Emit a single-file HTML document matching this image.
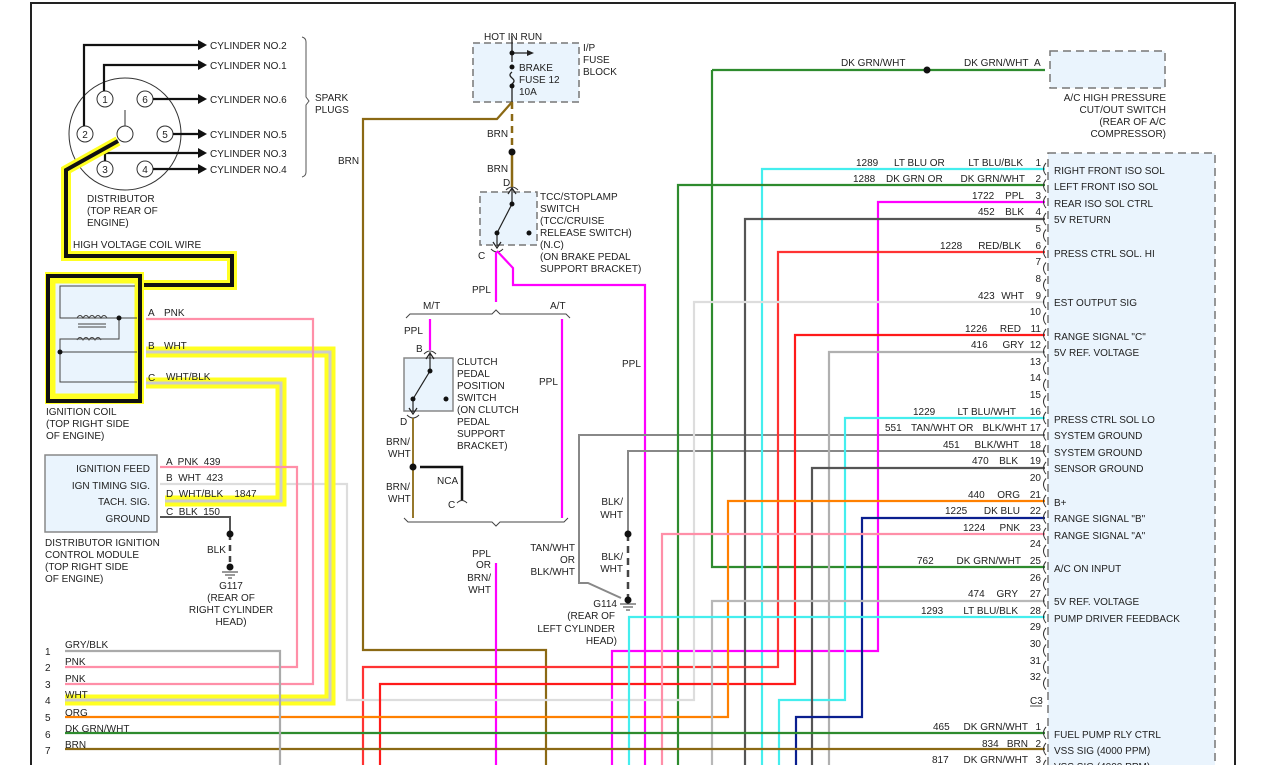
<!DOCTYPE html>
<html><head><meta charset="utf-8"><style>
html,body{margin:0;padding:0;background:#fff}
svg{display:block}
text{font-family:"Liberation Sans",sans-serif;font-size:10px;fill:#222;white-space:pre}
.w{fill:none;stroke-width:2.2}
</style></head><body>
<svg width="1281" height="765" viewBox="0 0 1281 765" xmlns="http://www.w3.org/2000/svg">
<rect x="31" y="3" width="1204" height="770" fill="none" stroke="#222" stroke-width="2"/>

<rect x="1048" y="153" width="167" height="620" fill="#eaf4fd" stroke="#777" stroke-width="1.5" stroke-dasharray="8,5"/>
<rect x="1050" y="51" width="115" height="37" fill="#eaf4fd" stroke="#777" stroke-width="1.5" stroke-dasharray="8,5"/>
<text x="1166" y="101" text-anchor="end">A/C HIGH PRESSURE</text>
<text x="1166" y="113" text-anchor="end">CUT/OUT SWITCH</text>
<text x="1166" y="125" text-anchor="end">(REAR OF A/C</text>
<text x="1166" y="137" text-anchor="end">COMPRESSOR)</text>

<rect x="473" y="43" width="106" height="59" fill="#eaf4fd" stroke="#777" stroke-width="1.5" stroke-dasharray="7,4"/>
<text x="484" y="40">HOT IN RUN</text>
<text x="583" y="51">I/P</text><text x="583" y="63">FUSE</text><text x="583" y="75">BLOCK</text>
<text x="519" y="71">BRAKE</text><text x="519" y="83">FUSE 12</text><text x="519" y="95">10A</text>
<path d="M512 36V62 M512 72 q-4 3 0 6 q4 3 0 6 M512 84V102 M512 53H528" stroke="#222" fill="none" stroke-width="1.3"/>
<path d="M527 50L534 53L527 56Z" fill="#222"/>
<circle cx="512" cy="53" r="2.5" fill="#111"/><circle cx="512" cy="67" r="2.5" fill="#111"/><circle cx="512" cy="86" r="2.5" fill="#111"/>

<rect x="480" y="192" width="57" height="53" fill="#eaf4fd" stroke="#777" stroke-width="1.5" stroke-dasharray="7,4"/>
<path d="M512 187V204 L497 233 M497 233V246 M493 242L497 248L501 242 M508 194L512 188L516 194" stroke="#222" fill="none" stroke-width="1.2"/>
<circle cx="512" cy="204" r="2.5" fill="#111"/><circle cx="497" cy="233" r="2.5" fill="#111"/><circle cx="529" cy="233" r="2.5" fill="#111"/>
<path d="M506 190q6-6 12 0 M491 249q6 6 12 0" stroke="#333" fill="none"/>
<text x="503" y="186">D</text><text x="478" y="259">C</text>
<text x="540" y="200">TCC/STOPLAMP</text><text x="540" y="212">SWITCH</text><text x="540" y="224">(TCC/CRUISE</text>
<text x="540" y="236">RELEASE SWITCH)</text><text x="540" y="248">(N.C)</text><text x="540" y="260">(ON BRAKE PEDAL</text><text x="540" y="272">SUPPORT BRACKET)</text>

<path class="w" d="M512 102L497 119H363V650H546V765" stroke="#8b6914"/>
<path d="M512 102V152" stroke="#8b6914" stroke-width="2.5" stroke-dasharray="7,5"/>
<path d="M512 152V187" stroke="#8b6914" stroke-width="2.5"/>
<circle cx="512" cy="152" r="3.5" fill="#111"/>
<text x="487" y="137">BRN</text><text x="487" y="172">BRN</text><text x="338" y="164">BRN</text>

<path class="w" d="M496 252V302 M497 251L513 268V285H645V765" stroke="#ff00ff"/>
<text x="472" y="293">PPL</text><text x="622" y="367">PPL</text>

<path d="M406 318l4-4h82l4-4l4 4h66l4 4" stroke="#444" fill="none"/>
<text x="423" y="309">M/T</text><text x="550" y="309">A/T</text>
<path d="M404 518l4 4h84l4 4l4-4h64l4-4" stroke="#444" fill="none"/>

<path class="w" d="M430 319V350" stroke="#ff00ff"/>
<text x="404" y="334">PPL</text><text x="416" y="352">B</text>
<rect x="404" y="358" width="49" height="53" fill="#eaf4fd" stroke="#888" stroke-width="1.5"/>
<path d="M430 352V371 L413 399 M413 399V412 M409 408L413 414L417 408 M426 359L430 353L434 359" stroke="#222" fill="none" stroke-width="1.2"/>
<circle cx="430" cy="371" r="2.5" fill="#111"/><circle cx="413" cy="399" r="2.5" fill="#111"/><circle cx="446" cy="399" r="2.5" fill="#111"/>
<path d="M424 354q6-6 12 0 M407 415q6 6 12 0" stroke="#333" fill="none"/>
<text x="400" y="425">D</text>
<text x="457" y="365">CLUTCH</text><text x="457" y="377">PEDAL</text><text x="457" y="389">POSITION</text><text x="457" y="401">SWITCH</text>
<text x="457" y="413">(ON CLUTCH</text><text x="457" y="425">PEDAL</text><text x="457" y="437">SUPPORT</text><text x="457" y="449">BRACKET)</text>
<path d="M413 418V518" stroke="#8b6914" stroke-width="1.8"/>
<circle cx="413" cy="467" r="3.5" fill="#111"/>
<path d="M420 467H462V500" stroke="#111" stroke-width="2.5" fill="none"/>
<path d="M457 503q5-5 10 0" stroke="#333" fill="none"/>
<text x="437" y="484">NCA</text><text x="448" y="508">C</text>
<text x="386" y="445">BRN/</text><text x="388" y="457">WHT</text><text x="386" y="490">BRN/</text><text x="388" y="502">WHT</text>
<path class="w" d="M562 319V518" stroke="#ff00ff"/>
<text x="539" y="385">PPL</text>
<path class="w" d="M496 563V765" stroke="#ff00ff"/>
<text x="491" y="557" text-anchor="end">PPL</text><text x="491" y="568" text-anchor="end">OR</text>
<text x="491" y="581" text-anchor="end">BRN/</text><text x="491" y="593" text-anchor="end">WHT</text>

<path d="M1045 435H579V583H588L621 598" stroke="#888" stroke-width="2" fill="none"/>
<path d="M1045 451H628V534" stroke="#888" stroke-width="2" fill="none"/>
<path d="M628 534V598" stroke="#444" stroke-width="2.5" stroke-dasharray="7,5"/>
<circle cx="628" cy="534" r="3.5" fill="#111"/><circle cx="628" cy="600" r="3.5" fill="#111"/>
<path d="M620 604h16M623 607h10M626 610h4" stroke="#333"/>
<text x="575" y="551" text-anchor="end">TAN/WHT</text><text x="575" y="563" text-anchor="end">OR</text><text x="575" y="575" text-anchor="end">BLK/WHT</text>
<text x="623" y="505" text-anchor="end">BLK/</text><text x="623" y="518" text-anchor="end">WHT</text>
<text x="623" y="560" text-anchor="end">BLK/</text><text x="623" y="572" text-anchor="end">WHT</text>
<text x="617" y="607" text-anchor="end">G114</text><text x="615" y="619" text-anchor="end">(REAR OF</text>
<text x="615" y="632" text-anchor="end">LEFT CYLINDER</text><text x="617" y="644" text-anchor="end">HEAD)</text>

<g class="w">
<path d="M712 70V567H1045" stroke="#2e8b2e"/>
<path d="M712 70H1045" stroke="#2e8b2e"/>
<path d="M1045 169H762V765" stroke="#44eeee"/>
<path d="M1045 185H678V765" stroke="#2e8b2e"/>
<path d="M1045 202H878V651H612V765" stroke="#ff00ff"/>
<path d="M1045 219H745V765" stroke="#555"/>
<path d="M1045 252H778V667H363V765" stroke="#ff3333"/>
<path d="M1045 302H694V700H347V484H160" stroke="#dddddd"/>
<path d="M1045 335H795V684H380V765" stroke="#ff1a1a"/>
<path d="M1045 352H829V765" stroke="#b0b0b0"/>
<path d="M1045 418H845V700H779V765" stroke="#44eeee"/>
<path d="M1045 468H812V765" stroke="#555"/>
<path d="M1045 501H728V717H65" stroke="#ff8000"/>
<path d="M1045 518H862V717H796V765" stroke="#0a1f8f"/>
<path d="M1045 534H662V765" stroke="#ff8fa8"/>
<path d="M1045 601H712V765" stroke="#b8b8b8"/>
<path d="M1045 617H629V765" stroke="#44eeee"/>
<path d="M1045 733H65" stroke="#2e8b2e"/>
<path d="M1045 749H65" stroke="#8b6914"/>
<path d="M1045 768H65" stroke="#2e8b2e"/>
</g>
<circle cx="927" cy="70" r="3.5" fill="#111"/>
<text x="841" y="66">DK GRN/WHT</text><text x="964" y="66">DK GRN/WHT</text><text x="1034" y="66">A</text>

<g>
<text x="856" y="166">1289</text><text x="894" y="166">LT BLU OR</text><text x="1023" y="166" text-anchor="end">LT BLU/BLK</text>
<text x="853" y="182">1288</text><text x="886" y="182">DK GRN OR</text><text x="1025" y="182" text-anchor="end">DK GRN/WHT</text>
<text x="972" y="199">1722</text><text x="1024" y="199" text-anchor="end">PPL</text>
<text x="978" y="215">452</text><text x="1024" y="215" text-anchor="end">BLK</text>
<text x="940" y="249">1228</text><text x="1021" y="249" text-anchor="end">RED/BLK</text>
<text x="978" y="299">423</text><text x="1024" y="299" text-anchor="end">WHT</text>
<text x="965" y="332">1226</text><text x="1021" y="332" text-anchor="end">RED</text>
<text x="971" y="348">416</text><text x="1024" y="348" text-anchor="end">GRY</text>
<text x="913" y="415">1229</text><text x="1016" y="415" text-anchor="end">LT BLU/WHT</text>
<text x="885" y="431">551</text><text x="911" y="431">TAN/WHT OR</text><text x="1027" y="431" text-anchor="end">BLK/WHT</text>
<text x="943" y="448">451</text><text x="1019" y="448" text-anchor="end">BLK/WHT</text>
<text x="972" y="464">470</text><text x="1018" y="464" text-anchor="end">BLK</text>
<text x="968" y="498">440</text><text x="1020" y="498" text-anchor="end">ORG</text>
<text x="945" y="514">1225</text><text x="1020" y="514" text-anchor="end">DK BLU</text>
<text x="963" y="531">1224</text><text x="1020" y="531" text-anchor="end">PNK</text>
<text x="917" y="564">762</text><text x="1021" y="564" text-anchor="end">DK GRN/WHT</text>
<text x="968" y="597">474</text><text x="1018" y="597" text-anchor="end">GRY</text>
<text x="921" y="614">1293</text><text x="1018" y="614" text-anchor="end">LT BLU/BLK</text>
<text x="933" y="730">465</text><text x="1028" y="730" text-anchor="end">DK GRN/WHT</text>
<text x="982" y="747">834</text><text x="1028" y="747" text-anchor="end">BRN</text>
<text x="932" y="763">817</text><text x="1028" y="763" text-anchor="end">DK GRN/WHT</text>
</g>
<g text-anchor="end">
<text x="1041" y="166">1</text><text x="1041" y="182">2</text><text x="1041" y="199">3</text><text x="1041" y="215">4</text>
<text x="1041" y="232">5</text><text x="1041" y="249">6</text><text x="1041" y="265">7</text><text x="1041" y="282">8</text>
<text x="1041" y="299">9</text><text x="1041" y="315">10</text><text x="1041" y="332">11</text><text x="1041" y="348">12</text>
<text x="1041" y="365">13</text><text x="1041" y="381">14</text><text x="1041" y="398">15</text><text x="1041" y="415">16</text>
<text x="1041" y="431">17</text><text x="1041" y="448">18</text><text x="1041" y="464">19</text><text x="1041" y="481">20</text>
<text x="1041" y="498">21</text><text x="1041" y="514">22</text><text x="1041" y="531">23</text><text x="1041" y="547">24</text>
<text x="1041" y="564">25</text><text x="1041" y="581">26</text><text x="1041" y="597">27</text><text x="1041" y="614">28</text>
<text x="1041" y="630">29</text><text x="1041" y="647">30</text><text x="1041" y="664">31</text><text x="1041" y="680">32</text>
<text x="1041" y="730">1</text><text x="1041" y="747">2</text><text x="1041" y="763">3</text>
</g>
<text x="1030" y="704">C3</text>
<path d="M1030 706H1042" stroke="#222" stroke-width="0.8"/>
<g stroke="#333" fill="none" stroke-width="1">
<path id="cc" d="M1046 163q-5 6 0 12"/>
<use href="#cc" y="16.5"/><use href="#cc" y="33"/><use href="#cc" y="50"/><use href="#cc" y="66.5"/><use href="#cc" y="83"/>
<use href="#cc" y="99.5"/><use href="#cc" y="116"/><use href="#cc" y="133"/><use href="#cc" y="149.5"/><use href="#cc" y="166"/>
<use href="#cc" y="182.5"/><use href="#cc" y="199"/><use href="#cc" y="216"/><use href="#cc" y="232.5"/><use href="#cc" y="249"/>
<use href="#cc" y="265.5"/><use href="#cc" y="282"/><use href="#cc" y="299"/><use href="#cc" y="315.5"/><use href="#cc" y="332"/>
<use href="#cc" y="348.5"/><use href="#cc" y="365"/><use href="#cc" y="382"/><use href="#cc" y="398.5"/><use href="#cc" y="415"/>
<use href="#cc" y="431.5"/><use href="#cc" y="448"/><use href="#cc" y="465"/><use href="#cc" y="481.5"/><use href="#cc" y="498"/>
<use href="#cc" y="514.5"/><use href="#cc" y="564"/><use href="#cc" y="580"/><use href="#cc" y="597"/>
</g>
<g>
<text x="1054" y="174">RIGHT FRONT ISO SOL</text><text x="1054" y="190">LEFT FRONT ISO SOL</text>
<text x="1054" y="207">REAR ISO SOL CTRL</text><text x="1054" y="223">5V RETURN</text>
<text x="1054" y="257">PRESS CTRL SOL. HI</text><text x="1054" y="306">EST OUTPUT SIG</text>
<text x="1054" y="340">RANGE SIGNAL "C"</text><text x="1054" y="356">5V REF. VOLTAGE</text>
<text x="1054" y="423">PRESS CTRL SOL LO</text><text x="1054" y="439">SYSTEM GROUND</text>
<text x="1054" y="456">SYSTEM GROUND</text><text x="1054" y="472">SENSOR GROUND</text>
<text x="1054" y="506">B+</text><text x="1054" y="522">RANGE SIGNAL "B"</text><text x="1054" y="539">RANGE SIGNAL "A"</text>
<text x="1054" y="572">A/C ON INPUT</text><text x="1054" y="605">5V REF. VOLTAGE</text>
<text x="1054" y="622">PUMP DRIVER FEEDBACK</text>
<text x="1054" y="738">FUEL PUMP RLY CTRL</text><text x="1054" y="754">VSS SIG (4000 PPM)</text><text x="1054" y="770">VSS SIG (4000 PPM)</text>
</g>

<circle cx="125" cy="134" r="56" fill="none" stroke="#333"/>
<g fill="#fff" stroke="#333">
<circle cx="105" cy="99" r="8"/><circle cx="145" cy="99" r="8"/><circle cx="85" cy="134" r="8"/>
<circle cx="165" cy="134" r="8"/><circle cx="105" cy="169" r="8"/><circle cx="145" cy="169" r="8"/>
<circle cx="125" cy="134" r="8"/>
</g>
<g text-anchor="middle" font-size="10"><text x="105" y="103">1</text><text x="145" y="103">6</text><text x="85" y="138">2</text><text x="165" y="138">5</text><text x="105" y="173">3</text><text x="145" y="173">4</text></g>
<path d="M125 126V110" stroke="#333"/>
<g stroke="#111" stroke-width="2.2" fill="none">
<path d="M84 126V45H200"/><path d="M104 91V65H200"/><path d="M153 99H200"/><path d="M173 134H200"/><path d="M105 161V153H200"/><path d="M153 169H200"/>
</g>
<g fill="#111"><path d="M198 40l9 5l-9 5z"/><path d="M198 60l9 5l-9 5z"/><path d="M198 94l9 5l-9 5z"/><path d="M198 129l9 5l-9 5z"/><path d="M198 148l9 5l-9 5z"/><path d="M198 164l9 5l-9 5z"/></g>
<g><text x="210" y="49">CYLINDER NO.2</text><text x="210" y="69">CYLINDER NO.1</text><text x="210" y="103">CYLINDER NO.6</text>
<text x="210" y="138">CYLINDER NO.5</text><text x="210" y="157">CYLINDER NO.3</text><text x="210" y="173">CYLINDER NO.4</text></g>
<path d="M302 37q4 1 4 5V97l3 4l-3 4V172q0 4-4 5" stroke="#555" fill="none"/>
<text x="315" y="101">SPARK</text><text x="315" y="113">PLUGS</text>
<text x="87" y="202">DISTRIBUTOR</text><text x="87" y="214">(TOP REAR OF</text><text x="87" y="226">ENGINE)</text>

<path d="M118 141L66 170V256H232V285H143" stroke="#ffff22" stroke-width="10" fill="none"/>
<path d="M118 141L66 170V256H232V285H143" stroke="#111" stroke-width="4" fill="none"/>
<text x="73" y="248">HIGH VOLTAGE COIL WIRE</text>

<path d="M146 352H330V700H65" stroke="#ffff22" stroke-width="11" fill="none"/>
<path d="M146 383H281V501H165" stroke="#ffff22" stroke-width="11" fill="none"/>
<path d="M146 352H330V700H65" stroke="#ccc" stroke-width="3" fill="none"/>
<path d="M146 383H281V501H165" stroke="#ccc" stroke-width="3" fill="none"/>

<rect x="45" y="272" width="99" height="132" fill="#ffff22"/>
<rect x="48" y="276" width="92" height="125" fill="none" stroke="#111" stroke-width="4"/>
<rect x="54" y="282" width="82" height="113" fill="#eaf4fd" stroke="#ffff22" stroke-width="3"/>
<path d="M135 286H60V318H137 M119 318V339H60V382H137 M60 352H137 M78 324h28M78 327h28" stroke="#444" fill="none" stroke-width="1"/>
<path d="M77 318q3-5 6 0q3-5 6 0q3-5 6 0q3-5 6 0q3-5 6 0 M77 340q3-5 6 0q3-5 6 0q3-5 6 0q3-5 6 0" stroke="#444" fill="none"/>
<circle cx="119" cy="318" r="2.5" fill="#111"/><circle cx="60" cy="352" r="2.5" fill="#111"/>
<text x="148" y="316">A</text><text x="164" y="316">PNK</text>
<text x="148" y="349">B</text><text x="164" y="349">WHT</text>
<text x="148" y="381">C</text><text x="166" y="380">WHT/BLK</text>
<text x="46" y="415">IGNITION COIL</text><text x="46" y="427">(TOP RIGHT SIDE</text><text x="46" y="439">OF ENGINE)</text>

<path class="w" d="M146 319H313V684H65" stroke="#ff8fa8"/>
<path class="w" d="M160 467H297V667H65" stroke="#ff8fa8"/>
<path class="w" d="M65 651H280V765" stroke="#aaa"/>
<path d="M160 517H230V534" stroke="#555" stroke-width="2" fill="none"/>
<path d="M230 534V570" stroke="#444" stroke-width="2.5" stroke-dasharray="6,5"/>
<circle cx="230" cy="534" r="3.5" fill="#111"/><circle cx="230" cy="567" r="3.5" fill="#111"/>
<path d="M222 572h16M225 575h10M228 578h4" stroke="#333"/>

<rect x="45" y="455" width="112" height="77" fill="#eaf4fd" stroke="#888" stroke-width="1.5"/>
<g text-anchor="end"><text x="150" y="472">IGNITION FEED</text><text x="150" y="489">IGN TIMING SIG.</text><text x="150" y="505">TACH. SIG.</text><text x="150" y="522">GROUND</text></g>
<text x="166" y="465">A  PNK  439</text><text x="166" y="481">B  WHT  423</text><text x="166" y="497">D  WHT/BLK    1847</text><text x="166" y="515">C  BLK  150</text>
<text x="45" y="546">DISTRIBUTOR IGNITION</text><text x="45" y="558">CONTROL MODULE</text><text x="45" y="570">(TOP RIGHT SIDE</text><text x="45" y="582">OF ENGINE)</text>
<text x="207" y="553">BLK</text>
<g text-anchor="middle"><text x="231" y="589">G117</text><text x="231" y="601">(REAR OF</text><text x="231" y="613">RIGHT CYLINDER</text><text x="231" y="625">HEAD)</text></g>

<g><text x="45" y="655">1</text><text x="45" y="671">2</text><text x="45" y="688">3</text><text x="45" y="704">4</text><text x="45" y="721">5</text><text x="45" y="738">6</text><text x="45" y="754">7</text>
<text x="65" y="648">GRY/BLK</text><text x="65" y="665">PNK</text><text x="65" y="682">PNK</text><text x="65" y="698">WHT</text><text x="65" y="716">ORG</text><text x="65" y="732">DK GRN/WHT</text><text x="65" y="748">BRN</text></g>
</svg>
</body></html>
